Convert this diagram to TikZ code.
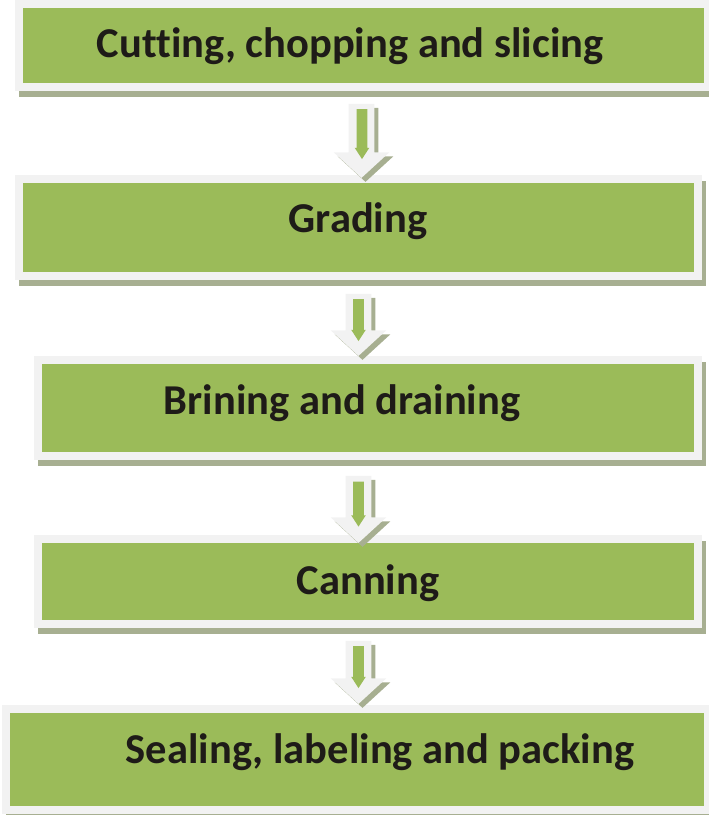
\documentclass[tikz,border=0pt]{standalone}
\usepackage{fontspec}
\setmainfont[Ligatures=NoCommon]{Carlito}
\usetikzlibrary{shapes.arrows}
\usetikzlibrary{shadows}

\definecolor{stepgreen}{HTML}{9BBB59}
\definecolor{steprim}{HTML}{F2F2F2}
\definecolor{stepshade}{HTML}{A7AF91}
\definecolor{steptextcol}{HTML}{1E1B18}

% one pixel of the layout grid
\def\px{0.75pt}

\tikzset{
    stepbox/.style={rectangle, inner sep=0pt, fill=stepgreen, draw=steprim, line width=8*\px,
        drop shadow={shadow xshift=4*\px, shadow yshift=-6*\px, fill=stepshade, draw=stepshade, opacity=1}},
    steptext/.style={anchor=base, text=steptextcol, font=\fontsize{31.9}{38}\selectfont\bfseries},
    downarrow/.style={single arrow, rotate=-90, fill=steprim, inner xsep=0pt, inner ysep=12.5*\px,
        single arrow head extend=15*\px, single arrow tip angle=95, minimum width=55*\px,
        drop shadow={shadow xshift=4*\px, shadow yshift=-4*\px, fill=stepshade, opacity=1}},
    downcore/.style={single arrow, rotate=-90, fill=stepgreen, inner xsep=0pt, inner ysep=5*\px,
        single arrow head extend=2*\px, single arrow tip angle=66}
}

\begin{document}
\begin{tikzpicture}[x=\px, y=-\px]
    \useasboundingbox (0,0) rectangle (708,815);

    % process steps
    \node [stepbox, minimum width=689*\px, minimum height=83*\px] (cutting) at (363.5,45.5) {};
    \node [stepbox, minimum width=679*\px, minimum height=97*\px] (grading) at (358.5,227.5) {};
    \node [stepbox, minimum width=660.5*\px, minimum height=95.5*\px] (brining) at (367.75,407.75) {};
    \node [stepbox, minimum width=660.5*\px, minimum height=84.5*\px] (canning) at (367.75,581.25) {};
    \node [stepbox, minimum width=702*\px, minimum height=101*\px] (sealing) at (357,759.5) {};

    \node [steptext] (cuttingtext) at (350,57) {Cutting, chopping and slicing};
    \node [steptext] (gradingtext) at (358,232) {Grading};
    \node [steptext] (briningtext) at (342,414) {Brining and draining};
    \node [steptext] (canningtext) at (368,594) {Canning};
    \node [steptext] (sealingtext) at (380,763) {Sealing, labeling and packing};

    % block arrows between the steps
    \node [downarrow, minimum height=74*\px] (arrow1) at (361.5,135) {};
    \node [downcore, minimum height=50*\px] (core1) at (362,130) {};
    \node [downarrow, minimum height=62*\px] (arrow2) at (358.5,319) {};
    \node [downcore, minimum height=42*\px] (core2) at (358.5,316) {};
    \node [downarrow, minimum height=67*\px] (arrow3) at (358.5,503.5) {};
    \node [downcore, minimum height=45*\px] (core3) at (358.5,500) {};
    \node [downarrow, minimum height=63*\px] (arrow4) at (358.5,666.5) {};
    \node [downcore, minimum height=42*\px] (core4) at (358.5,663) {};
\end{tikzpicture}
\end{document}
